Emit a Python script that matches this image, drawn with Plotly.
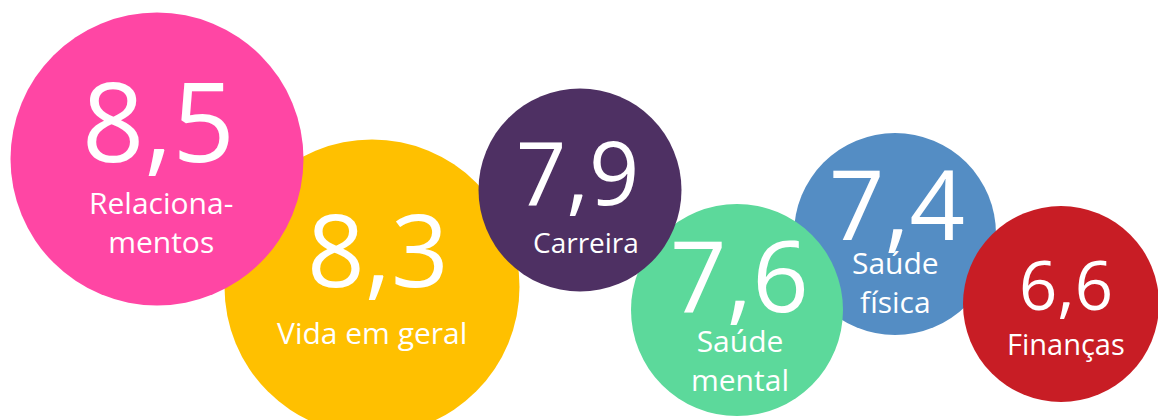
import plotly.graph_objects as go

# ---- data ----
categories = ["Relaciona-<br>mentos", "Vida em geral", "Carreira", "Saúde<br>mental", "Saúde<br>física", "Finanças"]
values = [8.5, 8.3, 7.9, 7.6, 7.4, 6.6]

# ---- layout / style constants ----
colors = ["#FF46A4", "#FFC000", "#4E3063", "#5CD99B", "#548DC4", "#C81D25"]
center_x = [157, 372, 580, 737, 895, 1061]
center_y = [159, 287, 190, 310, 234, 304]
diameter = [293, 295, 203, 212, 202, 196]
num_x = [158, 378, 577, 739, 897, 1066]
num_y = [119, 248, 171, 273, 202, 284]
num_size = [109, 101, 88, 99, 97, 67]
lab_x = [161, 372, 586, 740, 895, 1066]
lab_y = [222, 332, 242, 360, 282, 343]
lab_size = [30, 30, 28, 30, 30, 29]
draw_order = [1, 0, 4, 3, 2, 5]

FONT = "Open Sans"

fig = go.Figure()
for i in draw_order:
    fig.add_trace(go.Scatter(
        x=[center_x[i]], y=[center_y[i]], mode="markers",
        marker=dict(size=diameter[i], color=colors[i], line=dict(width=0), opacity=1),
        hoverinfo="skip", showlegend=False,
    ))

annotations = []
for i, (cat, v) in enumerate(zip(categories, values)):
    annotations.append(dict(
        x=num_x[i], y=num_y[i], xref="x", yref="y",
        text=f"{v:.1f}".replace(".", ","), showarrow=False,
        font=dict(family=FONT, size=num_size[i], color="white"),
        xanchor="center", yanchor="middle",
    ))
    annotations.append(dict(
        x=lab_x[i], y=lab_y[i], xref="x", yref="y",
        text=cat, showarrow=False,
        font=dict(family=FONT, size=lab_size[i], color="white"),
        xanchor="center", yanchor="middle",
    ))

fig.update_layout(
    width=1158, height=420,
    margin=dict(l=0, r=0, t=0, b=0),
    paper_bgcolor="white", plot_bgcolor="white",
    xaxis=dict(range=[0, 1158], visible=False, fixedrange=True),
    yaxis=dict(range=[420, 0], visible=False, fixedrange=True),
    annotations=annotations,
)

fig.write_html(
    "out.html",
    config={"displayModeBar": False},
    post_script="document.body.style.margin='0';document.body.style.overflow='hidden';",
)
